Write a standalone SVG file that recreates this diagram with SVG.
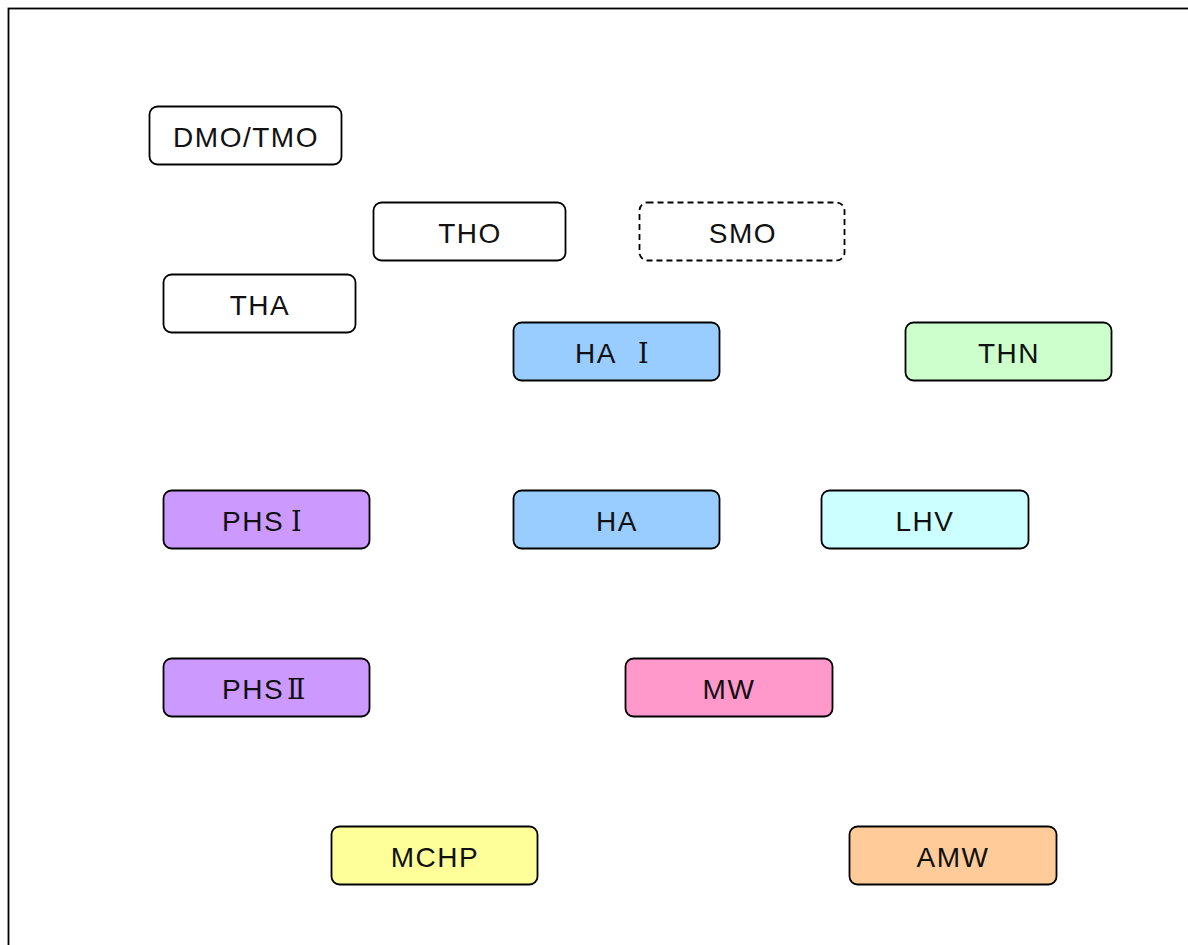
<svg xmlns="http://www.w3.org/2000/svg" width="1188" height="945" viewBox="0 0 1188 945">
  <style>
    .box { stroke: #000; stroke-width: 1.8; }
    .plain { fill: #fff; }
    .dash { fill: #fff; stroke-dasharray: 6 4; }
    .lbl { font-family: "Liberation Sans", "Noto Sans CJK JP", sans-serif; font-size: 28px; letter-spacing: 1.5px; fill: #111; text-anchor: middle; }
    .lft { text-anchor: start; }
    .num { font-family: "DejaVu Serif", "Liberation Serif", serif; font-size: 27px; letter-spacing: 0; }
  </style>
  <rect width="1188" height="945" fill="#fff"/>
  <!-- outer frame, running off the right and bottom edges -->
  <rect x="8.5" y="8.5" width="1200" height="960" fill="none" stroke="#000" stroke-width="1.8"/>

  <g id="connectors"></g>

  <g id="dmo-tmo">
    <rect class="box plain" x="149.5" y="106.5" width="192" height="58" rx="8"/>
    <text class="lbl" x="246" y="147">DMO/TMO</text>
  </g>
  <g id="tho">
    <rect class="box plain" x="373.5" y="202.5" width="192" height="58" rx="8"/>
    <text class="lbl" x="470" y="243">THO</text>
  </g>
  <g id="smo">
    <rect class="box dash" x="639.5" y="202.5" width="205" height="58" rx="8"/>
    <text class="lbl" x="743" y="243">SMO</text>
  </g>
  <g id="tha">
    <rect class="box plain" x="163.5" y="274.5" width="192" height="58" rx="8"/>
    <text class="lbl" x="260" y="315">THA</text>
  </g>
  <g id="ha-1">
    <rect class="box" fill="#99ccff" x="513.5" y="322.5" width="206" height="58" rx="8"/>
    <text class="lbl lft" x="575" y="363">HA <tspan class="num" x="638">Ⅰ</tspan></text>
  </g>
  <g id="thn">
    <rect class="box" fill="#ccffcc" x="905.5" y="322.5" width="206" height="58" rx="8"/>
    <text class="lbl" x="1009" y="363">THN</text>
  </g>
  <g id="phs-1">
    <rect class="box" fill="#cc99ff" x="163.5" y="490.5" width="206" height="58" rx="8"/>
    <text class="lbl lft" x="222" y="531">PHS<tspan class="num" x="291">Ⅰ</tspan></text>
  </g>
  <g id="ha">
    <rect class="box" fill="#99ccff" x="513.5" y="490.5" width="206" height="58" rx="8"/>
    <text class="lbl" x="617" y="531">HA</text>
  </g>
  <g id="lhv">
    <rect class="box" fill="#ccffff" x="821.5" y="490.5" width="207" height="58" rx="8"/>
    <text class="lbl" x="925" y="531">LHV</text>
  </g>
  <g id="phs-2">
    <rect class="box" fill="#cc99ff" x="163.5" y="658.5" width="206" height="58" rx="8"/>
    <text class="lbl lft" x="222" y="699">PHS<tspan class="num" x="287">Ⅱ</tspan></text>
  </g>
  <g id="mw">
    <rect class="box" fill="#ff99cc" x="625.5" y="658.5" width="207" height="58" rx="8"/>
    <text class="lbl" x="729" y="699">MW</text>
  </g>
  <g id="mchp">
    <rect class="box" fill="#ffff99" x="331.5" y="826.5" width="206" height="58" rx="8"/>
    <text class="lbl" x="435" y="867">MCHP</text>
  </g>
  <g id="amw">
    <rect class="box" fill="#ffcc99" x="849.5" y="826.5" width="207" height="58" rx="8"/>
    <text class="lbl" x="953" y="867">AMW</text>
  </g>
</svg>
